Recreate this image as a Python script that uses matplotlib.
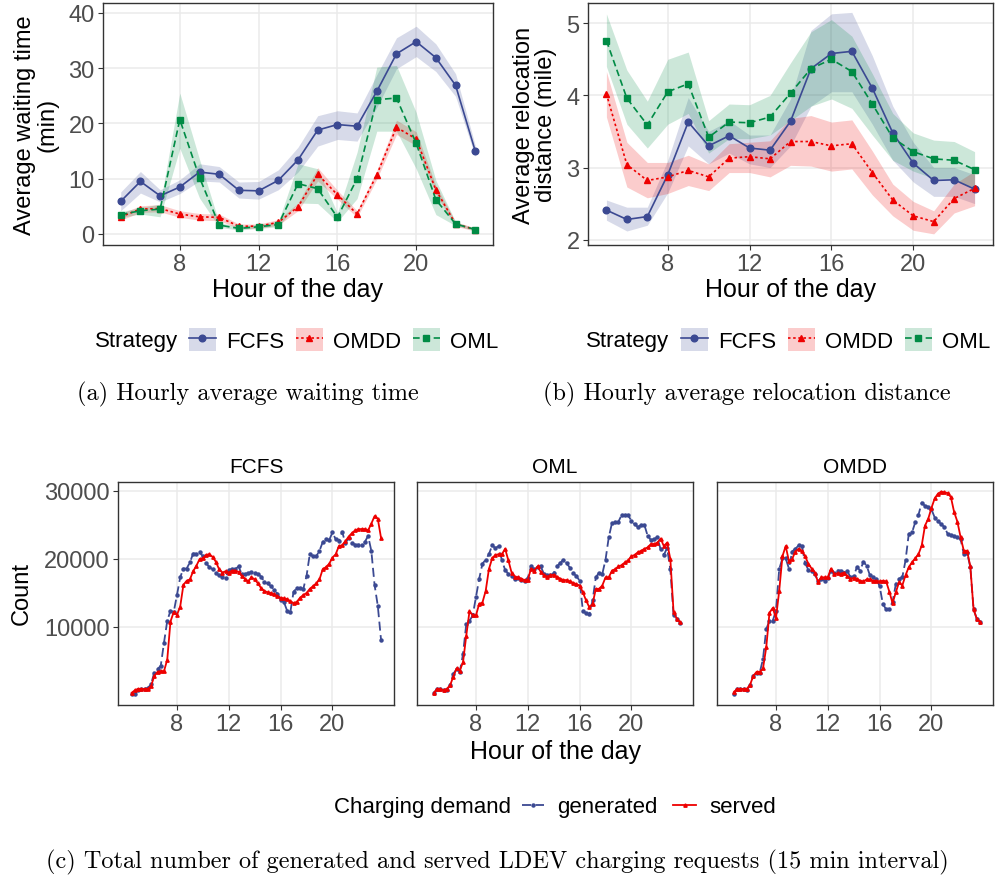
import numpy as np
import matplotlib.pyplot as plt
from matplotlib.lines import Line2D
from matplotlib.patches import Patch
from matplotlib.legend_handler import HandlerTuple

plt.rcParams['font.family'] = ['Liberation Sans', 'DejaVu Sans']

W, H = 997, 879

# ---- hourly data (top panels) ----
hours = list(range(5, 24))
strategies = ['FCFS', 'OMDD', 'OML']

wait_mean = {
    'FCFS': [5.9, 9.5, 6.9, 8.5, 11.2, 10.8, 7.9, 7.8, 9.7, 13.4, 18.8, 19.8, 19.5, 25.8, 32.6, 34.8, 31.9, 26.9, 15.0],
    'OMDD': [3.1, 4.5, 4.6, 3.6, 3.1, 3.0, 1.4, 1.4, 2.1, 4.9, 10.8, 7.1, 3.6, 10.7, 19.3, 17.2, 8.0, 1.8, 0.8],
    'OML':  [3.5, 4.2, 4.5, 20.7, 10.2, 1.6, 1.0, 1.3, 1.7, 9.1, 8.2, 3.0, 10.0, 24.3, 24.6, 16.4, 6.2, 1.8, 0.8],
}
wait_lo = {
    'FCFS': [4.2, 7.4, 5.8, 7.3, 9.6, 9.4, 6.5, 6.3, 8.0, 11.2, 15.9, 17.1, 16.8, 22.9, 29.9, 32.1, 29.4, 24.9, 14.0],
    'OMDD': [2.5, 3.9, 4.0, 3.0, 2.5, 2.4, 1.0, 1.0, 1.6, 4.2, 9.6, 6.3, 3.0, 9.9, 18.0, 16.0, 7.2, 1.4, 0.5],
    'OML':  [3.0, 3.6, 3.1, 15.5, 6.5, 1.2, 0.7, 1.0, 1.3, 5.6, 5.5, 2.2, 6.4, 18.6, 18.6, 11.8, 3.5, 1.5, 0.6],
}
wait_hi = {
    'FCFS': [7.6, 11.3, 8.0, 9.8, 12.7, 12.2, 9.4, 9.5, 11.6, 15.7, 21.4, 22.3, 21.9, 28.8, 35.5, 37.6, 34.4, 29.0, 16.0],
    'OMDD': [3.7, 5.1, 5.3, 4.2, 3.7, 3.6, 1.8, 1.8, 2.6, 5.6, 12.0, 7.9, 4.2, 11.5, 20.6, 18.5, 8.8, 2.2, 1.1],
    'OML':  [4.0, 4.8, 5.4, 25.5, 13.5, 2.0, 1.4, 1.7, 2.2, 12.7, 11.8, 3.8, 14.8, 30.2, 30.5, 22.0, 9.7, 2.2, 1.0],
}

dist_mean = {
    'FCFS': [2.41, 2.28, 2.32, 2.90, 3.63, 3.30, 3.44, 3.27, 3.24, 3.64, 4.37, 4.58, 4.61, 4.10, 3.48, 3.06, 2.82, 2.83, 2.70],
    'OMDD': [4.02, 3.04, 2.82, 2.87, 2.96, 2.87, 3.13, 3.15, 3.12, 3.36, 3.36, 3.30, 3.33, 2.93, 2.55, 2.33, 2.25, 2.57, 2.71],
    'OML':  [4.76, 3.96, 3.59, 4.05, 4.16, 3.42, 3.63, 3.62, 3.70, 4.03, 4.37, 4.50, 4.33, 3.88, 3.41, 3.22, 3.12, 3.10, 2.97],
}
dist_lo = {
    'FCFS': [2.27, 2.12, 2.20, 2.65, 3.30, 3.05, 3.20, 3.05, 3.00, 3.30, 3.85, 4.05, 4.05, 3.60, 3.10, 2.80, 2.60, 2.60, 2.50],
    'OMDD': [3.70, 2.73, 2.58, 2.64, 2.75, 2.68, 2.93, 2.93, 2.87, 3.03, 3.02, 2.95, 2.98, 2.62, 2.33, 2.13, 2.08, 2.37, 2.47],
    'OML':  [4.40, 3.60, 3.27, 3.60, 3.75, 3.20, 3.40, 3.40, 3.45, 3.65, 3.85, 3.95, 3.82, 3.45, 3.10, 2.95, 2.85, 2.85, 2.70],
}
dist_hi = {
    'FCFS': [2.55, 2.45, 2.45, 3.10, 3.97, 3.50, 3.65, 3.45, 3.45, 3.95, 4.90, 5.13, 5.15, 4.55, 3.85, 3.35, 3.00, 3.00, 2.90],
    'OMDD': [4.33, 3.35, 3.07, 3.07, 3.17, 3.05, 3.33, 3.35, 3.37, 3.68, 3.72, 3.63, 3.66, 3.23, 2.77, 2.53, 2.40, 2.77, 2.95],
    'OML':  [5.13, 4.35, 3.92, 4.50, 4.60, 3.65, 3.88, 3.87, 4.00, 4.45, 4.88, 5.05, 4.82, 4.30, 3.75, 3.48, 3.38, 3.36, 3.22],
}

# ---- 15 min counts (bottom panels) ----
t_fcfs = np.arange(4.5, 23.76, 0.25)
t_other = np.arange(4.75, 23.76, 0.25)

fcfs_generated = [100, 150, 800, 900, 900, 1000, 1600, 3300, 3800, 4300, 7700, 10900, 12400, 12200,
                  14700, 17300, 18600, 18600, 19500, 20800, 20800, 21000, 20400, 19400, 18800, 18500,
                  17900, 17600, 17400, 17200, 18400, 18500, 18500, 18900, 17800, 17800, 17900, 18100,
                  18000, 17800, 17400, 16600, 16400, 16000, 15500, 14900, 14000, 13700, 12400, 12200,
                  15200, 15700, 15700, 15600, 17500, 20700, 20400, 20400, 21200, 22500, 22900, 22800,
                  23900, 22900, 22700, 24000, 22300, 23100, 22300, 22100, 22100, 22100, 22500, 23400,
                  21200, 16200, 13100, 8100]
fcfs_served = [300, 700, 900, 900, 900, 900, 1300, 2800, 3400, 3500, 3500, 5200, 10800, 12200,
               11800, 13000, 16200, 16800, 17000, 18200, 19000, 20000, 20100, 20600, 20700, 20300,
               19600, 18500, 18000, 18200, 18000, 18300, 18300, 18100, 17500, 17100, 16700, 17300,
               17000, 16400, 15700, 15300, 15100, 15000, 14800, 14500, 14300, 14200, 14100, 13800,
               13500, 13700, 14300, 14700, 15000, 15600, 16000, 16400, 17000, 18500, 18800, 19300,
               20200, 20700, 21900, 22000, 22600, 23300, 23800, 24200, 24400, 24400, 24400, 24200,
               25200, 26300, 25900, 23100]

oml_generated = [300, 900, 900, 800, 800, 1400, 3100, 3800, 3400, 6000, 10400, 10900, 11700,
                 14400, 17100, 19300, 19900, 20700, 22000, 21600, 21900, 19800, 18400, 17800, 17500,
                 17100, 17200, 16900, 16800, 17200, 18900, 18500, 18800, 18900, 17800, 17600, 17600,
                 17900, 18900, 19400, 19900, 19400, 18700, 17900, 17500, 16800, 12400, 12000, 11900,
                 13900, 17300, 18000, 17800, 19900, 23200, 25300, 25400, 25500, 26500, 26400, 26400,
                 25600, 25100, 24700, 25000, 25000, 23400, 22800, 22900, 23200, 21400, 20600, 21600,
                 18500, 11700, 11200, 10600]
oml_served = [300, 900, 900, 700, 900, 1400, 2700, 3900, 3600, 4800, 8700, 12300, 11700, 11700,
              13400, 13600, 15300, 18500, 20100, 20600, 20700, 20700, 21500, 19800, 18000, 17400,
              17300, 17100, 16900, 16900, 18600, 18300, 18900, 18100, 17600, 17400, 17600, 17700,
              17400, 17100, 16900, 16900, 16700, 16500, 16300, 16100, 15100, 13900, 12900, 13400,
              15600, 15600, 16100, 17300, 17300, 18300, 18500, 18900, 19100, 19500, 19800, 20400,
              20600, 21000, 21200, 21500, 21700, 22200, 22200, 22400, 23000, 21900, 22400, 20000,
              12200, 11200, 10700]

omdd_generated = [150, 900, 900, 900, 800, 1400, 2800, 3200, 3300, 5300, 9700, 10900, 10900,
                  12400, 18500, 20100, 20100, 18600, 21100, 21500, 22000, 21900, 19400, 18400, 18300,
                  17800, 16700, 17100, 16800, 17200, 18300, 18000, 18300, 18300, 18000, 18300, 17300,
                  17500, 18800, 18300, 19600, 19000, 17600, 17300, 17100, 16000, 13400, 12600, 12700,
                  13700, 16300, 17100, 17300, 19800, 23700, 23900, 25400, 26500, 28300, 27800, 27700,
                  27300, 26100, 25600, 25100, 24700, 23700, 23500, 23400, 23200, 22900, 20700, 20900,
                  18800, 12600, 11200, 10800]
omdd_served = [400, 900, 900, 900, 900, 1500, 2800, 3400, 3400, 3900, 7000, 12100, 12800, 11300,
               15300, 20400, 21900, 19700, 20000, 21100, 21500, 21200, 20400, 19300, 18600, 18000,
               16600, 17300, 17300, 17300, 18600, 17800, 17900, 17800, 18000, 17500, 17100, 17200,
               17100, 16800, 16700, 17000, 17000, 16800, 16800, 16700, 16800, 16700, 15200, 13500,
               15100, 16600, 16100, 17600, 18800, 19500, 20100, 20700, 22000, 24900, 25900, 27500,
               28900, 29600, 29900, 29800, 29700, 29100, 26900, 25500, 23200, 21200, 21200, 18900,
               12600, 11200, 10800]

panels = ['FCFS', 'OML', 'OMDD']
panel_t = {'FCFS': t_fcfs, 'OML': t_other, 'OMDD': t_other}
panel_gen = {'FCFS': fcfs_generated, 'OML': oml_generated, 'OMDD': omdd_generated}
panel_srv = {'FCFS': fcfs_served, 'OML': oml_served, 'OMDD': omdd_served}

# ---- styles ----
colors = {'FCFS': '#3B4992', 'OMDD': '#EE0000', 'OML': '#008B45'}
markers = {'FCFS': 'o', 'OMDD': '^', 'OML': 's'}
dashes = {'FCFS': None, 'OMDD': (1.5, 1.6), 'OML': (4, 2.2)}
tick_col = '#4D4D4D'


def box(x0, y0, x1, y1):
    return [x0 / W, 1 - y1 / H, (x1 - x0) / W, (y1 - y0) / H]


def style(ax, size=17):
    ax.grid(True, color='#EBEBEB', lw=1.1)
    ax.set_axisbelow(True)
    for s in ax.spines.values():
        s.set_color('#333333')
        s.set_linewidth(1.0)
    ax.tick_params(colors='#333333', labelcolor=tick_col, labelsize=size, length=3.5, width=0.8, pad=2.5)


def line_kw(s):
    kw = dict(color=colors[s], marker=markers[s], ms=4.8, lw=1.2)
    if dashes[s] is None:
        kw['linestyle'] = '-'
    else:
        kw['dashes'] = dashes[s]
    return kw


fig = plt.figure(figsize=(W / 100, H / 100), dpi=100)

# ---- (a) waiting time ----
ax1 = fig.add_axes(box(103, 4, 493, 246))
for s in strategies:
    ax1.fill_between(hours, wait_lo[s], wait_hi[s], color=colors[s], alpha=0.2, lw=0)
for s in strategies:
    ax1.plot(hours, wait_mean[s], **line_kw(s))
ax1.set_xlim(4.1, 23.9)
ax1.set_ylim(-2.0, 41.8)
ax1.set_xticks([8, 12, 16, 20])
ax1.set_yticks([0, 10, 20, 30, 40])
style(ax1)
ax1.set_xlabel('Hour of the day', fontsize=18, labelpad=1)
fig.text(36 / W, 1 - 125 / H, 'Average waiting time\n(min)', rotation=90, fontsize=17,
         ha='center', va='center', linespacing=1.0)

# ---- (b) relocation distance ----
ax2 = fig.add_axes(box(588, 4, 993, 246))
for s in strategies:
    ax2.fill_between(hours, dist_lo[s], dist_hi[s], color=colors[s], alpha=0.2, lw=0)
for s in strategies:
    ax2.plot(hours, dist_mean[s], **line_kw(s))
ax2.set_xlim(4.1, 23.9)
ax2.set_ylim(1.926, 5.28)
ax2.set_xticks([8, 12, 16, 20])
ax2.set_yticks([2, 3, 4, 5])
style(ax2)
ax2.set_xlabel('Hour of the day', fontsize=18, labelpad=1)
fig.text(535 / W, 1 - 125 / H, 'Average relocation\ndistance (mile)', rotation=90, fontsize=17,
         ha='center', va='center', linespacing=1.0)

# ---- strategy legends ----
handles = [(Patch(facecolor=colors[s], alpha=0.2, lw=0), Line2D([], [], **line_kw(s))) for s in strategies]
for x_title, x_leg in [(95, 189), (586, 681)]:
    fig.text(x_title / W, 1 - 341 / H, 'Strategy', fontsize=16, ha='left', va='center')
    fig.legend(handles, strategies, loc='center left', bbox_to_anchor=(x_leg / W, 1 - 341 / H),
               ncol=3, frameon=False, fontsize=16, handler_map={tuple: HandlerTuple(ndivide=1)},
               handlelength=1.2, handleheight=1.2, handletextpad=0.45, columnspacing=0.55,
               borderpad=0, borderaxespad=0)

fig.text(248 / W, 1 - 394 / H, '(a) Hourly average waiting time', fontsize=17.5,
         family='cmr10', ha='center', va='center')
fig.text(747 / W, 1 - 394 / H, '(b) Hourly average relocation distance', fontsize=17.5,
         family='cmr10', ha='center', va='center')

# ---- (c) counts ----
lefts = [118, 417, 717]
for i, p in enumerate(panels):
    ax = fig.add_axes(box(lefts[i], 483, lefts[i] + 276, 706))
    ax.plot(panel_t[p], panel_gen[p], color=colors['FCFS'], marker='o', ms=2.2, lw=1.3, dashes=(5, 2.5))
    ax.plot(panel_t[p], panel_srv[p], color=colors['OMDD'], marker='^', ms=2.4, lw=1.3)
    ax.set_xlim(3.45, 24.75)
    ax.set_ylim(-1470, 31320)
    ax.set_xticks([8, 12, 16, 20])
    ax.set_yticks([10000, 20000, 30000])
    style(ax)
    if i > 0:
        ax.tick_params(axis='y', left=False, labelleft=False)
    ax.set_title(p, fontsize=15, pad=7)

fig.text(555 / W, 1 - 752 / H, 'Hour of the day', fontsize=18, ha='center', va='center')
fig.text(22 / W, 1 - 594 / H, 'Count', rotation=90, fontsize=17, ha='center', va='center')

demand_handles = [Line2D([], [], color=colors['FCFS'], marker='o', ms=2.2, lw=1.3, dashes=(5, 2.5)),
                  Line2D([], [], color=colors['OMDD'], marker='^', ms=2.4, lw=1.3)]
fig.text(334 / W, 1 - 808 / H, 'Charging demand', fontsize=16, ha='left', va='center')
fig.legend(demand_handles, ['generated', 'served'], loc='center left',
           bbox_to_anchor=(522 / W, 1 - 808 / H), ncol=2, frameon=False, fontsize=16,
           handlelength=1.0, handletextpad=0.6, columnspacing=0.7, borderpad=0, borderaxespad=0)

fig.text(497 / W, 1 - 862 / H,
         '(c) Total number of generated and served LDEV charging requests (15 min interval)',
         fontsize=17.5, family='cmr10', ha='center', va='center')

fig.savefig('out.png', dpi=100)
